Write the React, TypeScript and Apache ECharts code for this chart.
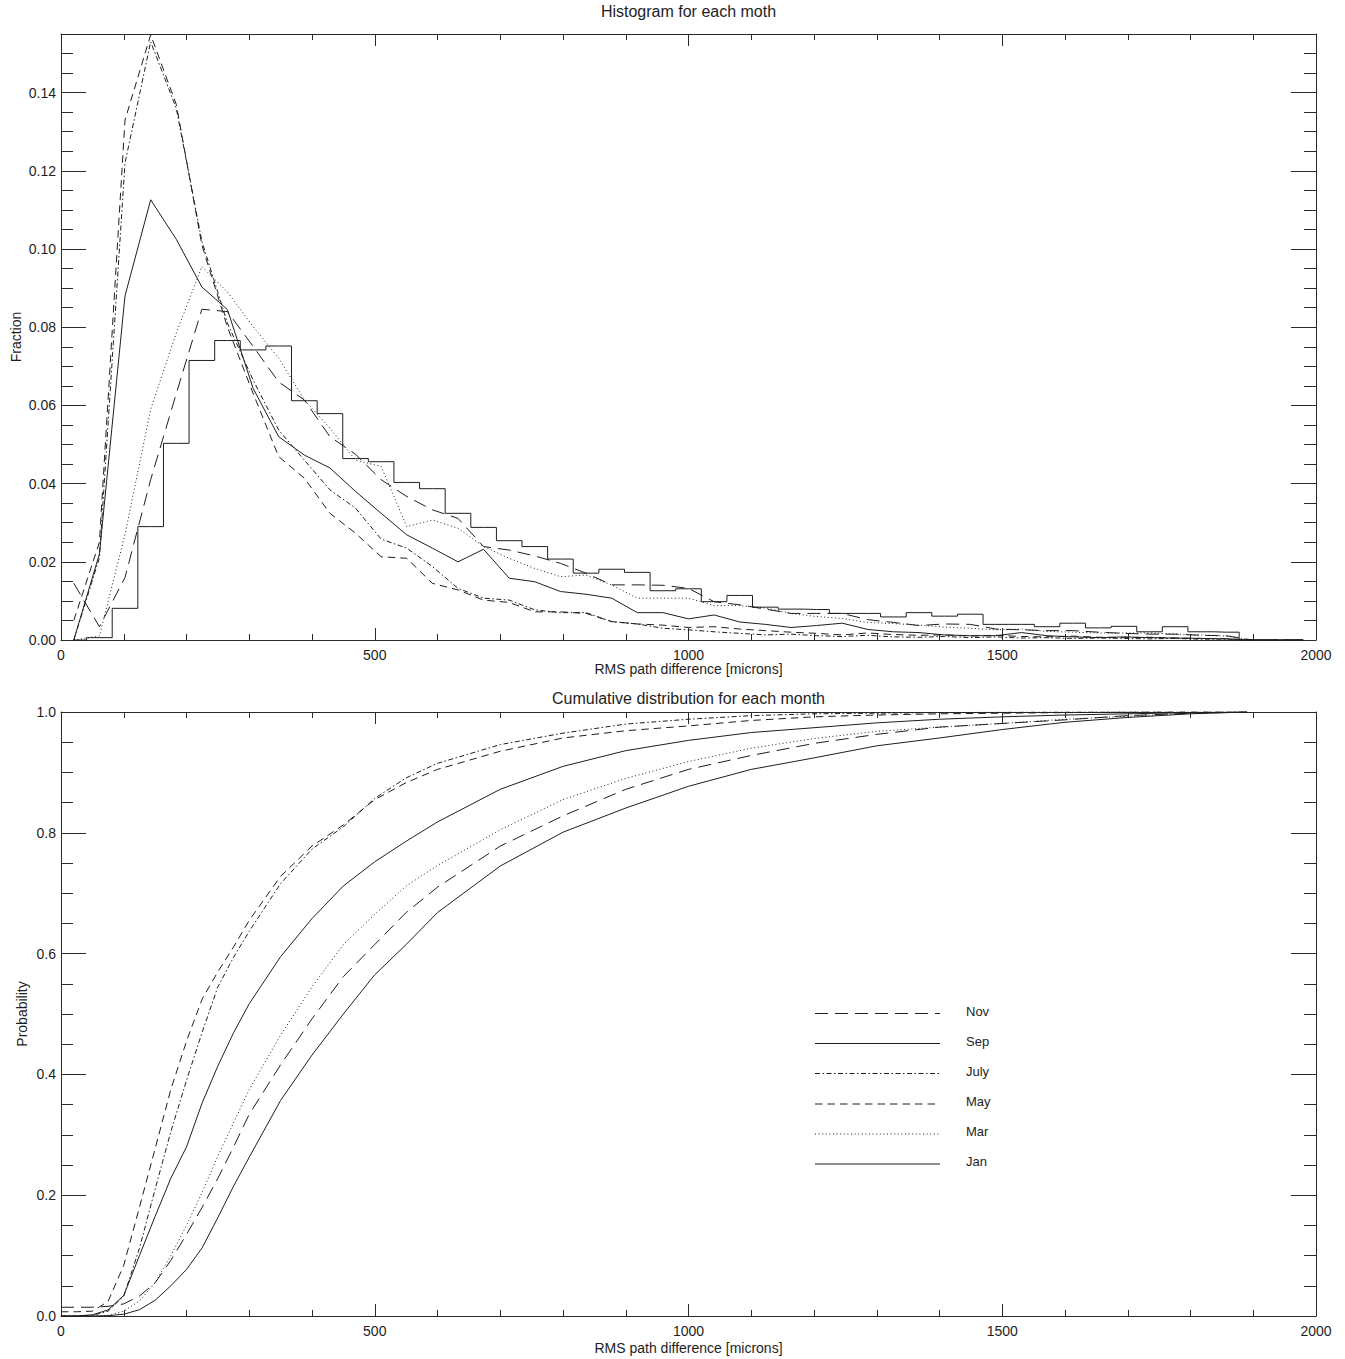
import React, { useEffect, useRef } from 'react';
import * as echarts from 'echarts';

// ---------- DATA ----------
// histogram bin centres (RMS path difference, microns)
const binCenters = [
  20.4, 61.2, 102.0, 142.9, 183.7, 224.5, 265.3, 306.1, 346.9, 387.8,
  428.6, 469.4, 510.2, 551.0, 591.8, 632.7, 673.5, 714.3, 755.1, 795.9,
  836.7, 877.6, 918.4, 959.2, 1000.0, 1040.8, 1081.6, 1122.4, 1163.3, 1204.1,
  1244.9, 1285.7, 1326.5, 1367.3, 1408.2, 1449.0, 1489.8, 1530.6, 1571.4, 1612.2,
  1653.1, 1693.9, 1734.7, 1775.5, 1816.3, 1857.1, 1898.0, 1938.8, 1979.6,
];

const histJan = [
  0, 0.0006, 0.0081, 0.029, 0.0503, 0.0715, 0.0766, 0.0742, 0.0752, 0.0612,
  0.0579, 0.0464, 0.0456, 0.0403, 0.0387, 0.0324, 0.0288, 0.0254, 0.0239, 0.0207,
  0.0171, 0.0181, 0.0173, 0.0126, 0.0131, 0.0098, 0.0114, 0.0084, 0.0079, 0.0078,
  0.0068, 0.0068, 0.0059, 0.007, 0.0061, 0.0066, 0.004, 0.004, 0.0034, 0.0043,
  0.0031, 0.0035, 0.0021, 0.0034, 0.0021, 0.002, 0, 0, 0,
];
const histMar = [
  0, 0.001, 0.027, 0.059, 0.0785, 0.0955, 0.089, 0.0802, 0.0721, 0.0614,
  0.0542, 0.046, 0.0444, 0.029, 0.0307, 0.0286, 0.0239, 0.0209, 0.0183, 0.0162,
  0.0166, 0.0141, 0.0107, 0.0107, 0.0107, 0.0088, 0.0088, 0.0082, 0.0068, 0.006,
  0.0055, 0.0045, 0.0042, 0.0038, 0.0033, 0.003, 0.0026, 0.0028, 0.0022, 0.002,
  0.0018, 0.0018, 0.0018, 0.0015, 0.0013, 0.001, 0, 0, 0,
];
const histMay = [
  0.005, 0.025, 0.133, 0.1548, 0.137, 0.101, 0.08, 0.0631, 0.0469, 0.0414,
  0.0324, 0.0273, 0.0213, 0.0209, 0.0145, 0.0128, 0.0102, 0.0096, 0.0072, 0.0072,
  0.0068, 0.0047, 0.0041, 0.0038, 0.0032, 0.0034, 0.0028, 0.0024, 0.002, 0.0017,
  0.0013, 0.0018, 0.0014, 0.0012, 0.0013, 0.001, 0.0012, 0.0009, 0.0008, 0.001,
  0.0007, 0.0006, 0.0007, 0.0005, 0.0004, 0.0003, 0, 0, 0,
];
const histJuly = [
  0, 0.021, 0.122, 0.153, 0.136, 0.102, 0.081, 0.0665, 0.0537, 0.046,
  0.0384, 0.0337, 0.0258, 0.0235, 0.0188, 0.0132, 0.0107, 0.0102, 0.0077, 0.007,
  0.007, 0.0047, 0.0041, 0.003, 0.0026, 0.0021, 0.0017, 0.0013, 0.0015, 0.0011,
  0.0009, 0.0012, 0.0008, 0.0007, 0.0009, 0.0006, 0.0008, 0.0005, 0.0006, 0.0004,
  0.0005, 0.0004, 0.0003, 0.0004, 0.0002, 0.0002, 0, 0, 0,
];
const histSep = [
  0, 0.022, 0.088, 0.1126, 0.1025, 0.0903, 0.0845, 0.0644, 0.052, 0.0473,
  0.044, 0.038, 0.0324, 0.0269, 0.0235, 0.02, 0.0232, 0.0158, 0.0149, 0.0124,
  0.0117, 0.0107, 0.007, 0.007, 0.0054, 0.0064, 0.0046, 0.004, 0.0032, 0.0037,
  0.0043, 0.0027, 0.0021, 0.0019, 0.0013, 0.0011, 0.0011, 0.0019, 0.0011, 0.0008,
  0.0006, 0.0008, 0.0006, 0.0005, 0.0004, 0.0003, 0, 0, 0,
];
const histNov = [
  0.0145, 0.0034, 0.016, 0.041, 0.063, 0.0846, 0.084, 0.0751, 0.066, 0.0614,
  0.052, 0.0475, 0.041, 0.0367, 0.0333, 0.0311, 0.0239, 0.023, 0.0215, 0.0196,
  0.0171, 0.0141, 0.0141, 0.014, 0.0132, 0.0098, 0.009, 0.0079, 0.0068, 0.0068,
  0.0068, 0.0052, 0.0045, 0.0037, 0.0041, 0.004, 0.0028, 0.0026, 0.0024, 0.0024,
  0.002, 0.0017, 0.0015, 0.0015, 0.0012, 0.0011, 0, 0, 0,
];

// cumulative distribution sample positions
const cumX = [
  0, 25, 50, 75, 100, 125, 150, 175, 200, 225, 250, 275, 300, 350, 400, 450,
  500, 550, 600, 700, 800, 900, 1000, 1100, 1200, 1300, 1400, 1500, 1600, 1700, 1800, 1890,
];
const cumJan = [
  0, 0, 0, 0.0005, 0.003, 0.0104, 0.026, 0.05, 0.077, 0.113, 0.163, 0.215, 0.263, 0.357, 0.432, 0.5,
  0.565, 0.615, 0.668, 0.745, 0.801, 0.841, 0.877, 0.905, 0.924, 0.944, 0.957, 0.971, 0.983, 0.991, 0.997, 1.0,
];
const cumMar = [
  0, 0, 0, 0.001, 0.008, 0.025, 0.055, 0.1, 0.15, 0.205, 0.265, 0.32, 0.375, 0.465, 0.545, 0.615,
  0.665, 0.712, 0.746, 0.805, 0.855, 0.89, 0.918, 0.94, 0.956, 0.968, 0.975, 0.981, 0.988, 0.993, 0.998, 1.0,
];
const cumMay = [
  0.007, 0.007, 0.008, 0.024, 0.084, 0.18, 0.277, 0.375, 0.455, 0.525, 0.57, 0.611, 0.655, 0.728, 0.778, 0.813,
  0.855, 0.883, 0.905, 0.935, 0.957, 0.969, 0.977, 0.986, 0.992, 0.995, 0.997, 0.998, 0.999, 1.0, 1.0, 1.0,
];
const cumJuly = [
  0, 0, 0.001, 0.008, 0.033, 0.112, 0.21, 0.305, 0.39, 0.47, 0.545, 0.594, 0.637, 0.716, 0.773, 0.81,
  0.857, 0.891, 0.915, 0.946, 0.965, 0.98, 0.988, 0.994, 0.997, 0.998, 0.999, 0.9995, 1.0, 1.0, 1.0, 1.0,
];
const cumSep = [
  0, 0, 0.002, 0.01, 0.034, 0.1, 0.165, 0.228, 0.28, 0.353, 0.414, 0.469, 0.517, 0.595, 0.658, 0.712,
  0.752, 0.786, 0.818, 0.872, 0.91, 0.936, 0.953, 0.966, 0.974, 0.982, 0.988, 0.992, 0.995, 0.997, 0.999, 1.0,
];
const cumNov = [
  0.0145, 0.0145, 0.0145, 0.016, 0.02, 0.033, 0.055, 0.092, 0.135, 0.18, 0.228, 0.28, 0.334, 0.416, 0.492, 0.562,
  0.615, 0.668, 0.71, 0.778, 0.828, 0.872, 0.905, 0.928, 0.948, 0.963, 0.975, 0.981, 0.987, 0.994, 0.998, 1.0,
];

const legendNames = ['Nov', 'Sep', 'July', 'May', 'Mar', 'Jan'];

// ---------- STYLE ----------
const FONT = '"Liberation Sans", Arial, sans-serif';
const INK = '#1e1e1e';
const AXC = '#2a2a2a';

const dashes: Record<string, any> = {
  Jan: 'solid',
  Sep: 'solid',
  Nov: [13, 7],
  May: [7.5, 5],
  July: [5, 2.5, 1.5, 2.5],
  Mar: [1, 2.6],
};

const GRID_L = 61;
const GRID_W = 1255;

function xAxisPair(gridIndex: number) {
  const base = {
    type: 'value',
    gridIndex,
    min: 0,
    max: 2000,
    interval: 500,
    axisLine: { show: true, onZero: false, lineStyle: { color: AXC, width: 1 } },
    axisTick: { show: true, inside: true, length: 12, lineStyle: { color: AXC, width: 1 } },
    minorTick: { show: true, splitNumber: 5, length: 6, lineStyle: { color: AXC, width: 1 } },
    splitLine: { show: false },
    minorSplitLine: { show: false },
  };
  return [
    {
      ...base,
      position: 'bottom',
      axisLabel: {
        show: true,
        margin: 8,
        fontSize: 14,
        color: INK,
        fontFamily: FONT,
        formatter: (v: number) => String(Math.round(v)),
      },
    },
    { ...base, position: 'top', axisLabel: { show: false } },
  ];
}

function yAxisSet(gridIndex: number, max: number, majorInt: number, minorInt: number, decimals: number) {
  const common = {
    type: 'value',
    gridIndex,
    min: 0,
    max,
    splitLine: { show: false },
    minorSplitLine: { show: false },
  };
  const out: any[] = [];
  for (const pos of ['left', 'right']) {
    out.push({
      ...common,
      position: pos,
      interval: majorInt,
      axisLine: { show: true, onZero: false, lineStyle: { color: AXC, width: 1 } },
      axisTick: { show: true, inside: true, length: 25, lineStyle: { color: AXC, width: 1 } },
      axisLabel: {
        show: pos === 'left',
        margin: 5,
        fontSize: 14,
        color: INK,
        fontFamily: FONT,
        showMaxLabel: max === 1 ? true : false,
        formatter: (v: number) => v.toFixed(decimals),
      },
    });
    out.push({
      ...common,
      position: pos,
      interval: minorInt,
      axisLine: { show: false, onZero: false },
      axisTick: { show: true, inside: true, length: 12, lineStyle: { color: AXC, width: 1 } },
      axisLabel: { show: false },
    });
  }
  return out;
}

function lineSeries(name: string, xs: number[], ys: number[], xi: number, yi: number, extra: any = {}) {
  return {
    name,
    type: 'line',
    xAxisIndex: xi,
    yAxisIndex: yi,
    data: xs.map((x, i) => [x, ys[i]]),
    symbol: 'none',
    showSymbol: false,
    lineStyle: { color: INK, width: 1, type: dashes[name] },
    emphasis: { disabled: true },
    silent: true,
    ...extra,
  };
}

function buildOption() {
  const xAxes = [...xAxisPair(0), ...xAxisPair(1)];
  const yAxes = [...yAxisSet(0, 0.155, 0.02, 0.005, 2), ...yAxisSet(1, 1.0, 0.2, 0.05, 1)];

  const histSeries = [
    lineSeries('Jan', binCenters, histJan, 0, 0, { step: 'middle' }),
    lineSeries('Mar', binCenters, histMar, 0, 0),
    lineSeries('May', binCenters, histMay, 0, 0),
    lineSeries('July', binCenters, histJuly, 0, 0),
    lineSeries('Sep', binCenters, histSep, 0, 0),
    lineSeries('Nov', binCenters, histNov, 0, 0),
  ];
  const cumSeries = [
    lineSeries('Jan', cumX, cumJan, 2, 4),
    lineSeries('Mar', cumX, cumMar, 2, 4),
    lineSeries('May', cumX, cumMay, 2, 4),
    lineSeries('July', cumX, cumJuly, 2, 4),
    lineSeries('Sep', cumX, cumSep, 2, 4),
    lineSeries('Nov', cumX, cumNov, 2, 4),
  ];

  const txt = (text: string, x: number, y: number, size: number, rotation = 0, align = 'center') => ({
    type: 'text',
    x,
    y,
    rotation,
    silent: true,
    style: {
      text,
      fill: INK,
      font: `${size}px ${FONT}`,
      textAlign: align,
      align,
      textVerticalAlign: 'middle',
      verticalAlign: 'middle',
    },
  });

  const legendRowsY = [1013.5, 1043.5, 1073.5, 1104, 1134, 1164];
  const legendEls: any[] = [];
  legendNames.forEach((n, i) => {
    const d = dashes[n];
    legendEls.push({
      type: 'line',
      silent: true,
      shape: { x1: 815, y1: legendRowsY[i], x2: 940, y2: legendRowsY[i] },
      style: { stroke: INK, lineWidth: 1, lineDash: Array.isArray(d) ? d : null },
    });
    legendEls.push(txt(n, 966, legendRowsY[i] - 2.5, 13, 0, 'left'));
  });

  const cx = GRID_L + GRID_W / 2;
  return {
    animation: false,
    backgroundColor: '#ffffff',
    grid: [
      { left: GRID_L, top: 34, width: GRID_W, height: 606, containLabel: false },
      { left: GRID_L, top: 712, width: GRID_W, height: 604, containLabel: false },
    ],
    xAxis: xAxes,
    yAxis: yAxes,
    series: [...histSeries, ...cumSeries],
    graphic: [
      txt('Histogram for each moth', cx, 11, 16),
      txt('RMS path difference [microns]', cx, 669, 14),
      txt('Fraction', 16, 337, 14, Math.PI / 2),
      txt('Cumulative distribution for each month', cx, 698, 16),
      txt('RMS path difference [microns]', cx, 1348, 14),
      txt('Probability', 22, 1014, 14, Math.PI / 2),
      ...legendEls,
    ],
  };
}

export default function App() {
  const ref = useRef<HTMLDivElement>(null);
  useEffect(() => {
    if (!ref.current) return;
    const chart = echarts.init(ref.current, null, { renderer: 'svg' });
    chart.setOption(buildOption() as any);
    return () => {
      chart.dispose();
    };
  }, []);
  return (
    <div
      ref={ref}
      style={{ position: 'absolute', left: 0, top: 0, width: 1345, height: 1359, background: '#fff' }}
    />
  );
}
